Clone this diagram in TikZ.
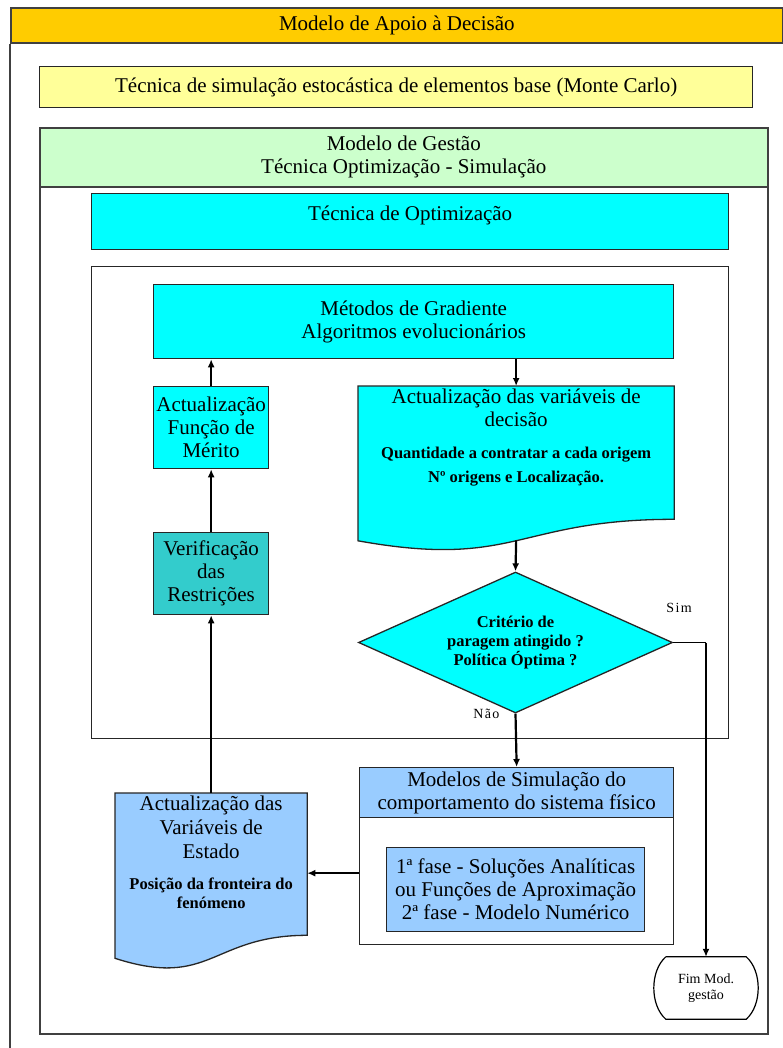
\documentclass[tikz,border=0pt]{standalone}
\usepackage{fontspec}
\setmainfont{Liberation Serif}
\newfontfamily\spacedfont[LetterSpace=10]{Liberation Serif}
\usetikzlibrary{shapes.geometric,arrows.meta,positioning,calc}
\definecolor{headorange}{HTML}{FFCC00}
\definecolor{paleyellow}{HTML}{FFFF99}
\definecolor{palegreen}{HTML}{CCFFCC}
\definecolor{flowcyan}{HTML}{00FFFF}
\definecolor{flowteal}{HTML}{33CCCC}
\definecolor{flowblue}{HTML}{99CCFF}
\definecolor{framegray}{HTML}{404040}
\newcommand{\bigtxt}{\fontsize{21}{23}\selectfont}
\newcommand{\smalltxt}{\fontsize{16.5}{19}\selectfont\bfseries}
\newcommand{\fimtxt}{\fontsize{14}{16}\selectfont}
\newcommand{\lbltxt}{\spacedfont\fontsize{14}{16}\selectfont}

\begin{document}
\begin{tikzpicture}[x=1pt, y=-1pt,
  frame/.style={draw=framegray, line width=1.6pt, inner sep=0pt, align=center,
    font=\bigtxt, anchor=north west},
  box/.style={draw=black!85, line width=1.3pt, inner sep=0pt, align=center,
    font=\bigtxt, anchor=north west},
  doctxt/.style={font=\bigtxt, align=center, anchor=north, inner sep=0pt},
  flow/.style={line width=2.2pt, -{Latex[length=8pt,width=7pt]}},
  lbl/.style={font=\lbltxt, inner sep=0pt}]
\useasboundingbox (0,0) rectangle (782,1048);
\fill[white] (0,0) rectangle (782,1048);

% moldura geral
\node[frame, fill=headorange, minimum width=772pt, minimum height=35pt] (apoio) at (10,7)
  {Modelo de Apoio à Decisão};
\draw[framegray, line width=1.6pt] (apoio.south west) -- (10,1048);
\node[box, fill=paleyellow, minimum width=713pt, minimum height=41pt] (montecarlo) at (39,66)
  {Técnica de simulação estocástica de elementos base (Monte Carlo)};

% modelo de gestao
\node[frame, minimum width=728pt, minimum height=906pt] (gestao) at (39,127) {};
\node[frame, fill=palegreen, minimum width=728pt, minimum height=59pt] (gestaotit) at (39,127)
  {Modelo de Gestão\\Técnica Optimização - Simulação};
\node[box, fill=flowcyan, minimum width=637pt, minimum height=56pt, text depth=16pt] (optim) at (91,193)
  {Técnica de Optimização};
\node[box, line width=1pt, minimum width=637pt, minimum height=472pt] (ciclo) at (91,266) {};

\node[box, fill=flowcyan, minimum width=520pt, minimum height=74pt] (metodos) at (153,284)
  {Métodos de Gradiente\\Algoritmos evolucionários};
\node[box, fill=flowcyan, minimum width=115pt, minimum height=82pt] (merito) at (153,386)
  {Actualização\\Função de\\Mérito};
\node[box, fill=flowteal, minimum width=115pt, minimum height=82pt] (restricoes) at (153,532)
  {Verificação\\das\\Restrições};

% documento: variaveis de decisao
\node[box, draw=none, minimum width=315pt, minimum height=132pt] (decisao) at (358,386) {};
\draw[draw=black!85, line width=1.3pt, fill=flowcyan]
  (decisao.north west) -- (decisao.north east) -- (decisao.south east)
  .. controls (decisao.south) and ($(decisao.south)+(0,50)$) .. ($(decisao.south west)+(0,21.5)$) -- cycle;
\node[doctxt] (decisaotxt) at ([yshift=-3pt]decisao.north)
  {Actualização das variáveis de\\decisão\\[9pt]{\smalltxt Quantidade a contratar a cada origem}\\[1pt]{\smalltxt Nº origens e Localização.}};
\coordinate (decisaoout) at ($(decisao.south)+(0,21)$);

\node[diamond, draw=black!85, line width=1.3pt, fill=flowcyan, minimum width=314pt, minimum height=141pt,
  shape aspect=2.2, inner sep=0pt, font=\smalltxt, align=center] (criterio) at (515.5,642.5)
  {Critério de\\paragem atingido ?\\Política Óptima ?};

% simulacao
\node[box, minimum width=314pt, minimum height=177pt] (simulacao) at (359,767) {};
\node[box, fill=flowblue, minimum width=314pt, minimum height=50pt] (simtit) at (359,767)
  {Modelos de Simulação do\\comportamento do sistema físico};
\node[box, fill=flowblue, minimum width=258pt, minimum height=84pt] (fases) at (386,847)
  {1ª fase - Soluções Analíticas\\ou Funções de Aproximação\\2ª fase - Modelo Numérico};
\coordinate (simout) at ([yshift=-17pt]simulacao.west);

% documento: variaveis de estado
\node[box, draw=none, minimum width=191pt, minimum height=141pt] (estado) at (115,793) {};
\draw[draw=black!85, line width=1.3pt, fill=flowblue]
  (estado.north west) -- (estado.north east) -- (estado.south east)
  .. controls (estado.south) and ($(estado.south)+(0,54)$) .. ($(estado.south west)+(0,23)$) -- cycle;
\node[doctxt] (estadotxt) at ([yshift=-3pt]estado.north)
  {Actualização das\\[1pt]Variáveis de\\[1pt]Estado\\[8pt]{\smalltxt Posição da fronteira do}\\[-4pt]{\smalltxt fenómeno}};

% fim
\node[minimum width=80pt, minimum height=62pt, font=\fimtxt, align=center, inner sep=0pt] (fim) at (706,988)
  {Fim Mod.\\gestão};
\draw[line width=1.2pt] (fim.north west) -- (fim.north east)
  .. controls +(16,14) and +(16,-14) .. (fim.south east) -- (fim.south west)
  .. controls +(-16,-14) and +(-16,14) .. (fim.north west);

% ligacoes
\path[flow]
  (metodos.south -| decisao.north) edge (decisao.north)
  (decisaoout) edge (criterio.north)
  (criterio.south) edge node[lbl, anchor=east, pos=0, xshift=-15pt] {Não} (simtit.north)
  (simout) edge (simout -| estado.east)
  (estado.north) edge (restricoes.south)
  (restricoes.north) edge (merito.south)
  (merito.north) edge (merito.north |- metodos.south);
\coordinate (simcanto) at (criterio.east -| fim.north);
\draw[line width=1.2pt] (criterio.east) -- (simcanto);
\draw[flow] (simcanto) -- (fim.north);
\node[lbl] (sim) at ($(criterio.east)+(6,-35)$) {Sim};
\end{tikzpicture}
\end{document}
